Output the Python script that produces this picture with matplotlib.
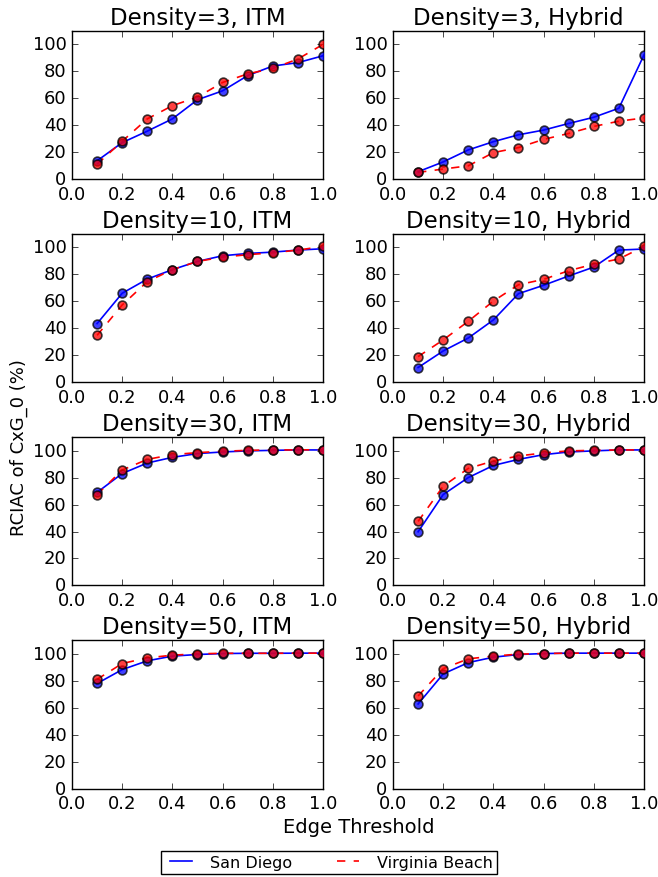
import numpy as np
import matplotlib
matplotlib.use("Agg")
import matplotlib.pyplot as plt

""" Values read off the reference chart """
thresholds = [0.1, 0.2, 0.3, 0.4, 0.5, 0.6, 0.7, 0.8, 0.9, 1.0]
densities = [3, 10, 30, 50]
models = ["ITM", "Hybrid"]

# San Diego (blue, solid)
sd_3_itm = [13.5, 27, 35.5, 44.6, 58.8, 65.4, 76.7, 83.8, 86.3, 91.4]
sd_3_hyb = [5.4, 12.7, 21.6, 27.7, 32.8, 36.3, 41.2, 45.8, 52.5, 92]
sd_10_itm = [43.5, 66, 76.5, 83.5, 89.6, 93.8, 95.5, 96.5, 98, 99]
sd_10_hyb = [10.9, 23.2, 32.8, 46.2, 65.7, 71.9, 78.8, 85.4, 98, 98.8]
sd_30_itm = [69, 83, 90.8, 95, 97.8, 99, 99.8, 100.2, 100.5, 100.5]
sd_30_hyb = [39.8, 67.4, 80, 89, 93.5, 97, 99, 99.8, 100.5, 100.5]
sd_50_itm = [78, 88.3, 94.8, 98.3, 99.5, 100.2, 100.4, 100.4, 100.5, 100.5]
sd_50_hyb = [62.8, 85.1, 93.5, 97.5, 99.5, 100.2, 100.5, 100.5, 100.5, 100.5]

# Virginia Beach (red, dashed)
vb_3_itm = [11, 28, 44.6, 54.4, 60.8, 71.6, 78, 82, 89, 99.8]
vb_3_hyb = [4.9, 7.4, 9.8, 19.6, 23.3, 29.4, 33.8, 39, 42.9, 45.3]
vb_10_itm = [34.8, 57.3, 74.6, 83.5, 89.6, 92.8, 94.6, 96, 98, 100.7]
vb_10_hyb = [19, 31.4, 45.2, 60.2, 72.3, 76.3, 82.7, 87.6, 91.4, 100.7]
vb_30_itm = [67.4, 85.6, 93.5, 97, 98.5, 99.5, 100.2, 100.5, 100.5, 100.7]
vb_30_hyb = [47.5, 73.6, 86.8, 92.3, 96, 98.3, 99.8, 100.2, 100.5, 100.5]
vb_50_itm = [81.1, 92.8, 97, 99, 100, 100.4, 100.4, 100.4, 100.5, 100.5]
vb_50_hyb = [68.7, 89, 96.3, 98.3, 99.8, 100.2, 100.5, 100.5, 100.5, 100.5]

sd_series = [[sd_3_itm, sd_3_hyb], [sd_10_itm, sd_10_hyb],
             [sd_30_itm, sd_30_hyb], [sd_50_itm, sd_50_hyb]]
vb_series = [[vb_3_itm, vb_3_hyb], [vb_10_itm, vb_10_hyb],
             [vb_30_itm, vb_30_hyb], [vb_50_itm, vb_50_hyb]]

##################################################################################################

plt.style.use('classic')
plt.rcParams['figure.facecolor'] = 'white'
plt.rcParams['savefig.facecolor'] = 'white'
plt.rcParams['font.family'] = 'DejaVu Sans'

fig, axes = plt.subplots(4, 2, figsize=(6.58, 8.78), dpi=100)
fig.subplots_adjust(left=0.1094, right=0.9787, top=0.9639, bottom=0.1006,
                    wspace=0.279, hspace=0.37)

for i, dens in enumerate(densities):
    for j, model in enumerate(models):
        ax = axes[i, j]
        sd = sd_series[i][j]
        vb = vb_series[i][j]
        l1, = ax.plot(thresholds, sd, color='b', linestyle='-', linewidth=1.2)
        l2, = ax.plot(thresholds, vb, color='r', linestyle='--', linewidth=1.2)
        ax.scatter(thresholds, sd, s=40, c='b', alpha=0.75, edgecolors='k', linewidths=1.2, zorder=3)
        ax.scatter(thresholds, vb, s=40, c='r', alpha=0.75, edgecolors='k', linewidths=1.2, zorder=3)
        ax.set_xlim(0, 1)
        ax.set_ylim(0, 110)
        ax.set_yticks([0, 20, 40, 60, 80, 100])
        ax.set_xticks([0.0, 0.2, 0.4, 0.6, 0.8, 1.0])
        ax.tick_params(labelsize=13)
        ax.set_title("Density=" + str(dens) + ", " + model, fontsize=16.5)

fig.text(0.028, 0.49, 'RCIAC of CxG_0 (%)', rotation=90, ha='center', va='center', fontsize=13)
fig.text(0.545, 0.057, 'Edge Threshold', ha='center', va='center', fontsize=14)
fig.legend([l1, l2], ['San Diego', 'Virginia Beach'], loc='center',
           bbox_to_anchor=(0.5, 0.0165), ncol=2, fontsize=11.5, frameon=True,
           columnspacing=2.5, borderpad=0.25)

plt.savefig('out.png', dpi=100)
